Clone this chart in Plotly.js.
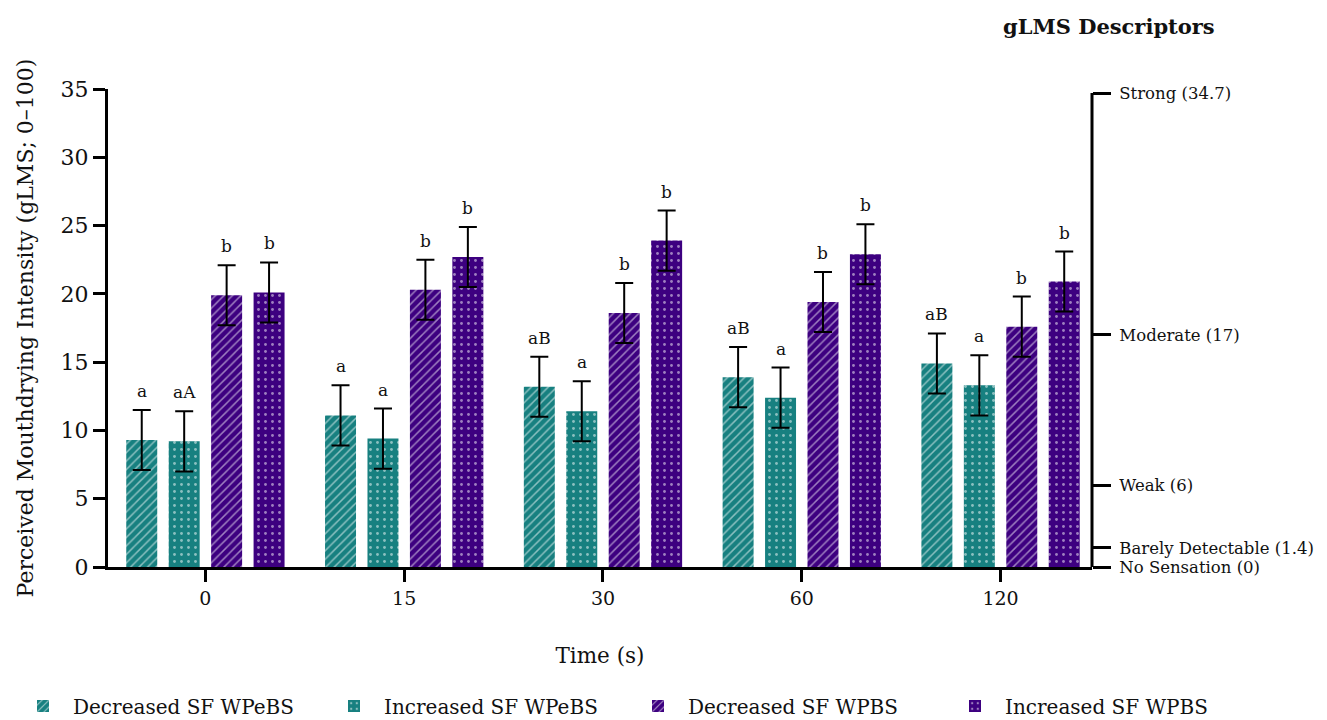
<!DOCTYPE html>
<html>
<head>
<meta charset="utf-8">
<script src="https://cdn.plot.ly/plotly-3.0.1.min.js"></script>
<style>html,body{margin:0;padding:0;background:#fff;}#chart{width:1327px;height:720px;}</style>
</head>
<body>
<div id="chart"></div>
<script>
const timeLabels = ['0', '15', '30', '60', '120'];
const seriesNames = ['Decreased SF WPeBS', 'Increased SF WPeBS', 'Decreased SF WPBS', 'Increased SF WPBS'];

const decWPeBS = [9.3, 11.1, 13.2, 13.9, 14.9];
const incWPeBS = [9.2, 9.4, 11.4, 12.4, 13.3];
const decWPBS  = [19.9, 20.3, 18.6, 19.4, 17.6];
const incWPBS  = [20.1, 22.7, 23.9, 22.9, 20.9];

const errDecWPeBS = [2.2, 2.2, 2.2, 2.2, 2.2];
const errIncWPeBS = [2.2, 2.2, 2.2, 2.2, 2.2];
const errDecWPBS  = [2.2, 2.2, 2.2, 2.2, 2.2];
const errIncWPBS  = [2.2, 2.2, 2.2, 2.2, 2.2];

const lettersDecWPeBS = ['a', 'a', 'aB', 'aB', 'aB'];
const lettersIncWPeBS = ['aA', 'a', 'a', 'a', 'a'];
const lettersDecWPBS  = ['b', 'b', 'b', 'b', 'b'];
const lettersIncWPBS  = ['b', 'b', 'b', 'b', 'b'];

const descriptorValues = [0, 1.4, 6, 17, 34.7];
const descriptorLabels = ['No Sensation (0)', 'Barely Detectable (1.4)', 'Weak (6)', 'Moderate (17)', 'Strong (34.7)'];

const teal = '#178080';
const purple = '#3d0080';
const FONT = 'DejaVu Serif, serif';

const values = [decWPeBS, incWPeBS, decWPBS, incWPBS];
const errs = [errDecWPeBS, errIncWPeBS, errDecWPBS, errIncWPBS];
const letters = [lettersDecWPeBS, lettersIncWPeBS, lettersDecWPBS, lettersIncWPBS];
const colors = [teal, teal, purple, purple];
const shapes = ['/', '.', '/', '.'];
const legendIds = ['legend', 'legend2', 'legend3', 'legend4'];
const legendLeftPx = [13, 324, 628, 945];

const bargap = 0.146;
const traces = values.map((v, i) => ({
  type: 'bar',
  name: seriesNames[i],
  legend: legendIds[i],
  x: timeLabels,
  y: v,
  marker: {
    color: colors[i],
    line: {width: 0},
    pattern: shapes[i] === '/' ?
      {shape: '/', fgcolor: '#ffffff', bgcolor: colors[i], size: 6, solidity: 0.25, fillmode: 'overlay'} :
      {shape: '.', fgcolor: '#ffffff', bgcolor: colors[i], size: 7, solidity: 0.13, fillmode: 'overlay'}
  },
  error_y: {type: 'data', array: errs[i], visible: true, color: '#000', thickness: 2, width: 9},
  hoverinfo: 'skip'
}));

// invisible trace so the descriptor axis is drawn
traces.push({
  type: 'scatter', mode: 'markers', xaxis: 'x', yaxis: 'y2',
  x: descriptorValues.map(() => timeLabels[0]), y: descriptorValues,
  marker: {opacity: 0}, showlegend: false, hoverinfo: 'skip'
});

const slot = (1 - bargap) / 4;
const annotations = [];
values.forEach((v, i) => {
  v.forEach((val, j) => {
    annotations.push({
      x: j + (i - 1.5) * slot, y: val + errs[i][j], xref: 'x', yref: 'y',
      text: letters[i][j], showarrow: false, yanchor: 'bottom', xanchor: 'center', yshift: 7,
      font: {family: FONT, size: 17, color: '#111'}
    });
  });
});
annotations.push({
  xref: 'paper', yref: 'paper', x: 1.017, y: 1.13, xanchor: 'center', yanchor: 'middle',
  text: '<b>gLMS Descriptors</b>',
  showarrow: false, font: {family: FONT, size: 21, color: '#111'}
});

const plotL = 108, plotW = 984, plotT = 89, plotH = 478;
const layout = {
  width: 1327, height: 720,
  margin: {l: plotL, r: 235, t: plotT, b: 153, autoexpand: false},
  paper_bgcolor: '#fff', plot_bgcolor: '#fff',
  font: {family: FONT, color: '#111'},
  barmode: 'group', bargap: bargap, bargroupgap: 0.27,
  showlegend: true,
  xaxis: {
    type: 'category', range: [-0.49, 4.46],
    showline: true, linecolor: '#000', linewidth: 3,
    ticks: 'outside', ticklen: 12, tickwidth: 3, tickcolor: '#000',
    tickfont: {family: FONT, size: 19, color: '#111'},
    showgrid: false, zeroline: false,
    title: {text: 'Time (s)', font: {family: FONT, size: 21.5, color: '#111'}, standoff: 41}
  },
  yaxis: {
    range: [0, 35], dtick: 5, tick0: 0,
    showline: true, linecolor: '#000', linewidth: 3,
    ticks: 'outside', ticklen: 12, tickwidth: 3, tickcolor: '#000',
    tickfont: {family: FONT, size: 22, color: '#111'},
    showgrid: false, zeroline: false,
    title: {text: 'Perceived Mouthdrying Intensity (gLMS; 0–100)', font: {family: FONT, size: 22, color: '#111'}, standoff: 21}
  },
  yaxis2: {
    overlaying: 'y', side: 'right', range: [0, 35],
    tickvals: descriptorValues, ticktext: descriptorLabels,
    showline: false, showgrid: false, zeroline: false,
    ticks: 'outside', ticklen: 18, tickwidth: 3, tickcolor: '#000',
    ticklabelstandoff: 5,
    tickfont: {family: FONT, size: 16.5, color: '#111'}
  },
  shapes: [{
    type: 'line', xref: 'paper', yref: 'y', x0: 1, x1: 1,
    y0: descriptorValues[0], y1: descriptorValues[descriptorValues.length - 1],
    line: {color: '#000', width: 3}
  }],
  annotations: annotations
};

legendIds.forEach((id, i) => {
  layout[id] = {
    orientation: 'h', x: (legendLeftPx[i] - plotL) / plotW, xanchor: 'left',
    y: (plotT + plotH - 706) / plotH, yanchor: 'middle',
    font: {family: FONT, size: 20, color: '#111'},
    itemwidth: 50, bgcolor: 'rgba(0,0,0,0)'
  };
});

Plotly.newPlot('chart', traces, layout, {displayModeBar: false, staticPlot: true});
</script>
</body>
</html>
